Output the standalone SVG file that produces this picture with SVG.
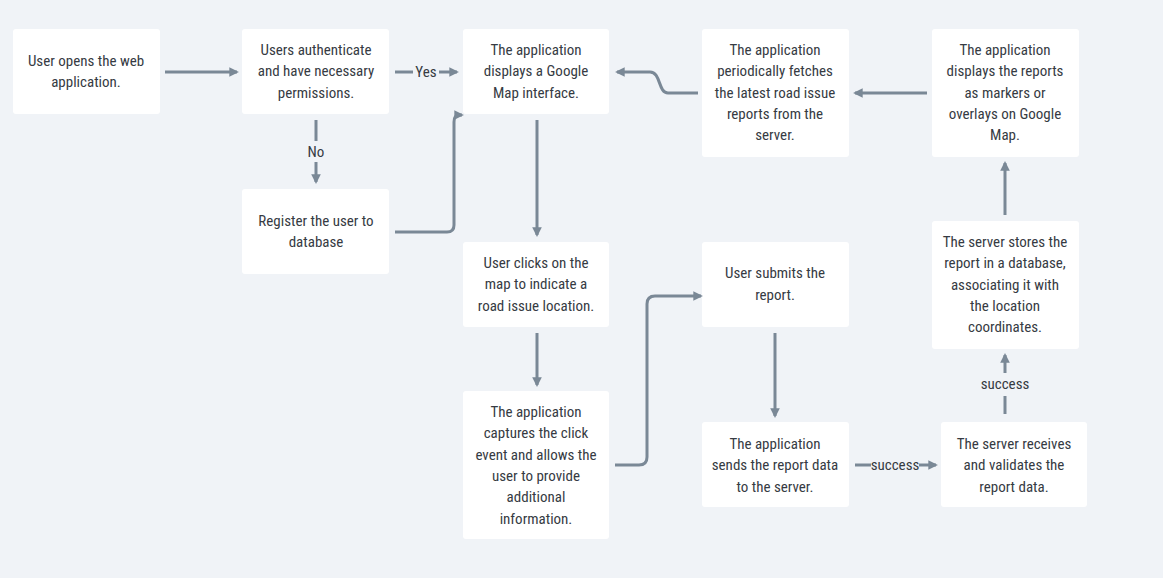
<svg xmlns="http://www.w3.org/2000/svg" width="1163" height="578" viewBox="0 0 1163 578">
<style>
.bg{fill:#f0f3f7}
.node rect{fill:#ffffff;rx:3px}
text{font-family:"Liberation Sans Narrow","Roboto Condensed","DejaVu Sans Condensed",sans-serif;font-size:15px;fill:#363b43;text-anchor:middle}
.c path{fill:none;stroke:#7a8896;stroke-width:3}
.lbl{fill:#363b43}
</style>
<defs>
<marker id="ah" viewBox="0 0 10 10" refX="8" refY="5" markerWidth="3.2" markerHeight="3.2" orient="auto" markerUnits="strokeWidth">
<path d="M0,0 L10,5 L0,10 Z" fill="#7a8896"/>
</marker>
</defs>
<rect class="bg" x="0" y="0" width="1163" height="578"/>

<g id="n1" class="node"><rect x="13" y="29" width="147" height="85"/>
<text x="86" y="66">User opens the web</text><text x="86" y="87">application.</text></g>

<g id="n2" class="node"><rect x="242" y="29" width="147" height="85"/>
<text x="316" y="55">Users authenticate</text><text x="316" y="76">and have necessary</text><text x="316" y="98">permissions.</text></g>

<g id="n3" class="node"><rect x="242" y="189" width="147" height="85"/>
<text x="316" y="226">Register the user to</text><text x="316" y="247">database</text></g>

<g id="n4" class="node"><rect x="463" y="29" width="146" height="85"/>
<text x="536" y="55">The application</text><text x="536" y="76">displays a Google</text><text x="536" y="98">Map interface.</text></g>

<g id="n5" class="node"><rect x="702" y="29" width="147" height="128"/>
<text x="775" y="55">The application</text><text x="775" y="76">periodically fetches</text><text x="775" y="98">the latest road issue</text><text x="775" y="119">reports from the</text><text x="775" y="140">server.</text></g>

<g id="n6" class="node"><rect x="932" y="29" width="147" height="128"/>
<text x="1005" y="55">The application</text><text x="1005" y="76">displays the reports</text><text x="1005" y="98">as markers or</text><text x="1005" y="119">overlays on Google</text><text x="1005" y="140">Map.</text></g>

<g id="n7" class="node"><rect x="932" y="221" width="147" height="128"/>
<text x="1005" y="247">The server stores the</text><text x="1005" y="268">report in a database,</text><text x="1005" y="290">associating it with</text><text x="1005" y="311">the location</text><text x="1005" y="332">coordinates.</text></g>

<g id="n8" class="node"><rect x="463" y="242" width="146" height="85"/>
<text x="536" y="268">User clicks on the</text><text x="536" y="289">map to indicate a</text><text x="536" y="311">road issue location.</text></g>

<g id="n9" class="node"><rect x="463" y="391" width="146" height="148"/>
<text x="536" y="417">The application</text><text x="536" y="438">captures the click</text><text x="536" y="460">event and allows the</text><text x="536" y="481">user to provide</text><text x="536" y="502">additional</text><text x="536" y="524">information.</text></g>

<g id="n10" class="node"><rect x="702" y="242" width="147" height="85"/>
<text x="775" y="278">User submits the</text><text x="775" y="300">report.</text></g>

<g id="n11" class="node"><rect x="702" y="422" width="147" height="85"/>
<text x="775" y="449">The application</text><text x="775" y="470">sends the report data</text><text x="775" y="492">to the server.</text></g>

<g id="n12" class="node"><rect x="941" y="422" width="146" height="85"/>
<text x="1014" y="449">The server receives</text><text x="1014" y="470">and validates the</text><text x="1014" y="492">report data.</text></g>

<g id="connectors" class="c">
<path d="M165,72 H237" marker-end="url(#ah)"/>
<path d="M395,72 H413"/>
<path d="M439,72 H457" marker-end="url(#ah)"/>
<text class="lbl" x="426" y="77">Yes</text>
<path d="M316,120 V141"/>
<path d="M316,162 V182" marker-end="url(#ah)"/>
<text class="lbl" x="316" y="157">No</text>
<path d="M395,232 H447 Q454,232 454,225 V122 Q454,115 459,115 H462" marker-end="url(#ah)"/>
<path d="M537,120 V235" marker-end="url(#ah)"/>
<path d="M698,93 H668 C658,93 661,72 650,72 H617" marker-end="url(#ah)"/>
<path d="M927,93 H855" marker-end="url(#ah)"/>
<path d="M1005,215 V163" marker-end="url(#ah)"/>
<path d="M1005,414 V396"/>
<path d="M1005,373 V355" marker-end="url(#ah)"/>
<text class="lbl" x="1005" y="389">success</text>
<path d="M855,465 H871"/>
<path d="M919,465 H936" marker-end="url(#ah)"/>
<text class="lbl" x="895" y="470">success</text>
<path d="M537,333 V385" marker-end="url(#ah)"/>
<path d="M615,465 H639 Q647,465 647,457 V304 Q647,296 655,296 H701" marker-end="url(#ah)"/>
<path d="M775,333 V416" marker-end="url(#ah)"/>
</g>
</svg>
